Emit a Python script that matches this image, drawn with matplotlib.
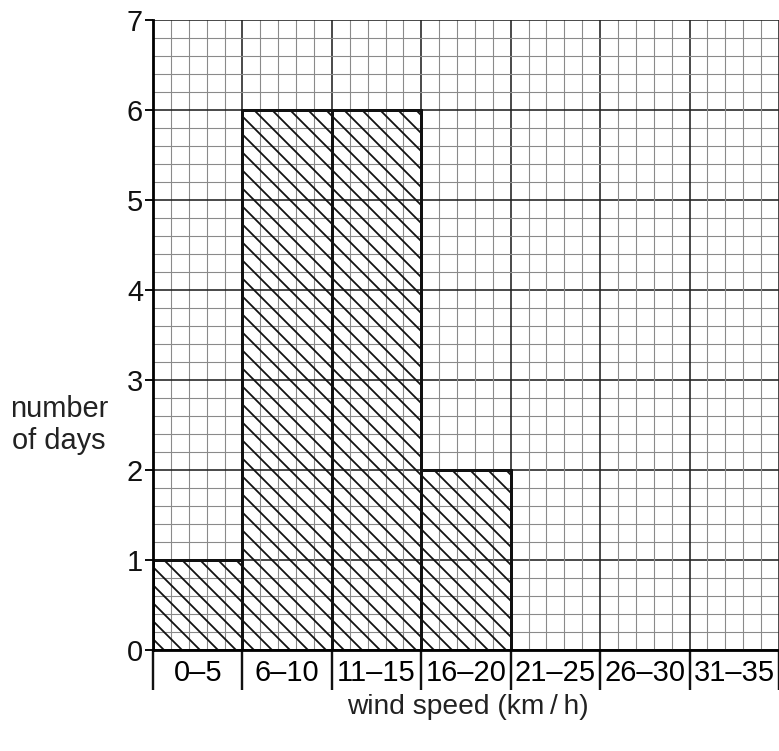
import numpy as np
import matplotlib.pyplot as plt

plt.rcParams['font.family'] = ['Liberation Sans', 'DejaVu Sans']

# data
categories = ['0–5', '6–10', '11–15', '16–20', '21–25', '26–30', '31–35']
days = [1, 6, 6, 2, 0, 0, 0]

DPI = 108
W, H = 779, 751
pt = 72.0 / DPI  # pixels -> points

fig = plt.figure(figsize=(W / DPI, H / DPI), dpi=DPI)
fig.patch.set_facecolor('white')
x0, y0, y1 = 153, 650, 20
ax = fig.add_axes([x0 / W, (H - y0) / H, (W - x0) / W, (y0 - y1) / H])
ax.set_xlim(0, (W - x0) / 90.0)
ax.set_ylim(0, 7)

# graph paper grid
for v in np.arange(0, 7.01, 0.2):
    major = abs(v - round(v)) < 1e-6
    ax.axhline(v, color='#222222' if major else '#8a8a8a',
               lw=(1.6 if major else 1.1) * pt, zorder=1)
    ax.axvline(v, color='#222222' if major else '#8a8a8a',
               lw=(1.6 if major else 1.1) * pt, zorder=1)

plt.rcParams['hatch.linewidth'] = 1.8 * pt
xs = np.arange(len(categories)) + 0.5
for x, d in zip(xs, days):
    if d > 0:
        ax.bar(x, d, width=1.0, facecolor='none', edgecolor='#111111',
               hatch='\\\\', linewidth=3 * pt, zorder=3)

for s in ['top', 'right']:
    ax.spines[s].set_visible(False)
for s in ['left', 'bottom']:
    ax.spines[s].set_linewidth(2.8 * pt)
    ax.spines[s].set_zorder(4)

fs = 29 * pt
ax.set_yticks(range(0, 8))
ax.tick_params(axis='y', length=8 * pt, width=2 * pt, labelsize=fs, pad=2 * pt,
               colors='#111111')

ax.set_xticks(range(0, 8))
ax.set_xticklabels([])
ax.tick_params(axis='x', which='major', length=40 * pt, width=2.4 * pt,
               colors='#111111')
ax.set_xticks(xs, minor=True)
ax.set_xticklabels(categories, minor=True)
ax.tick_params(axis='x', which='minor', length=0, labelsize=fs, pad=9 * pt)

ax.set_xlabel('wind speed (km\u2009/\u2009h)', fontsize=fs * 0.97, color='#222222')
ax.xaxis.set_label_coords((468 - x0) / (W - x0), -(707 - y0) / (y0 - y1))
ax.xaxis.label.set_va('center')
fig.text(59 / W, 1 - 425 / H, 'number\nof days', fontsize=fs, ha='center',
         va='center', color='#222222', linespacing=1.2)

fig.savefig('out.png', dpi=DPI)
